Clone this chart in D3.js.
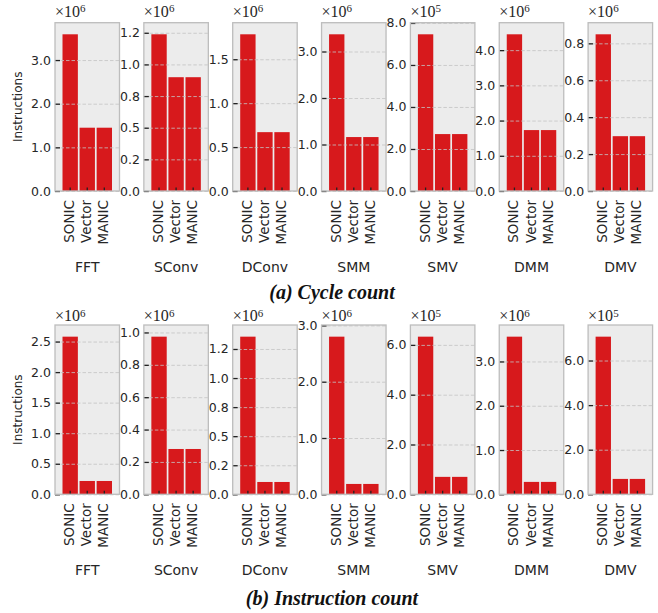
<!DOCTYPE html>
<html lang="en">
<head>
  <meta charset="UTF-8">
  <title>Cycle and instruction count</title>
  <script src="https://cdn.jsdelivr.net/npm/d3@7/dist/d3.min.js"></script>
  <style>
    body { margin: 0; background: #fff; }
  </style>
</head>
<body>
<script>
  const svgWidth = 658
  const svgHeight = 613

  // data
  const kernels = ["FFT", "SConv", "DConv", "SMM", "SMV", "DMM", "DMV"]
  const designs = ["SONIC", "Vector", "MANIC"]

  // (a) cycle count, one array per kernel: SONIC, Vector, MANIC
  const cycleFFT   = [3.59e6, 1.45e6, 1.45e6]
  const cycleSConv = [1.238e6, 0.899e6, 0.899e6]
  const cycleDConv = [1.784e6, 0.67e6, 0.67e6]
  const cycleSMM   = [3.37e6, 1.16e6, 1.16e6]
  const cycleSMV   = [7.46e5, 2.71e5, 2.71e5]
  const cycleDMM   = [4.45e6, 1.73e6, 1.73e6]
  const cycleDMV   = [0.849e6, 0.297e6, 0.297e6]

  // (b) instruction count
  const instrFFT   = [2.58e6, 0.218e6, 0.218e6]
  const instrSConv = [0.974e6, 0.28e6, 0.28e6]
  const instrDConv = [1.356e6, 0.106e6, 0.106e6]
  const instrSMM   = [2.80e6, 0.184e6, 0.184e6]
  const instrSMV   = [6.33e5, 0.70e5, 0.70e5]
  const instrDMM   = [3.56e6, 0.28e6, 0.28e6]
  const instrDMV   = [7.07e5, 0.69e5, 0.69e5]

  // offset exponent per panel (the x10^n above each axis)
  const cycleExp = [6, 6, 6, 6, 5, 6, 6]
  const instrExp = [6, 6, 6, 6, 5, 6, 5]

  // tick values (in units of 10^exp) and their printed labels
  const cycleTicks = [
    [0, 1, 2, 3],
    [0, 0.25, 0.5, 0.75, 1.0, 1.25],
    [0, 0.5, 1.0, 1.5],
    [0, 1, 2, 3],
    [0, 2, 4, 6, 8],
    [0, 1, 2, 3, 4],
    [0, 0.2, 0.4, 0.6, 0.8]
  ]
  const cycleTickLabels = [
    ["0.0", "1.0", "2.0", "3.0"],
    ["0.0", "0.2", "0.5", "0.8", "1.0", "1.2"],
    ["0.0", "0.5", "1.0", "1.5"],
    ["0.0", "1.0", "2.0", "3.0"],
    ["0.0", "2.0", "4.0", "6.0", "8.0"],
    ["0.0", "1.0", "2.0", "3.0", "4.0"],
    ["0.0", "0.2", "0.4", "0.6", "0.8"]
  ]
  const instrTicks = [
    [0, 0.5, 1.0, 1.5, 2.0, 2.5],
    [0, 0.2, 0.4, 0.6, 0.8, 1.0],
    [0, 0.25, 0.5, 0.75, 1.0, 1.25],
    [0, 1, 2, 3],
    [0, 2, 4, 6],
    [0, 1, 2, 3],
    [0, 2, 4, 6]
  ]
  const instrTickLabels = [
    ["0.0", "0.5", "1.0", "1.5", "2.0", "2.5"],
    ["0.0", "0.2", "0.4", "0.6", "0.8", "1.0"],
    ["0.0", "0.2", "0.5", "0.8", "1.0", "1.2"],
    ["0.0", "1.0", "2.0", "3.0"],
    ["0.0", "2.0", "4.0", "6.0"],
    ["0.0", "1.0", "2.0", "3.0"],
    ["0.0", "2.0", "4.0", "6.0"]
  ]

  const rows = [
    {
      title: "(a) Cycle count",
      values: [cycleFFT, cycleSConv, cycleDConv, cycleSMM, cycleSMV, cycleDMM, cycleDMV],
      exps: cycleExp, ticks: cycleTicks, labels: cycleTickLabels,
      top: 22.7, bottom: 191, titleY: 299, offY: -6
    },
    {
      title: "(b) Instruction count",
      values: [instrFFT, instrSConv, instrDConv, instrSMM, instrSMV, instrDMM, instrDMV],
      exps: instrExp, ticks: instrTicks, labels: instrTickLabels,
      top: 325, bottom: 494.3, titleY: 605, offY: -4
    }
  ]

  // layout
  const panelLeft = 55
  const panelStep = 88.85
  const panelW = 64.5
  const barColor = "#d7191c"
  const sans = "'DejaVu Sans', sans-serif"

  const svg = d3.select("body").append("svg")
    .attr("width", svgWidth)
    .attr("height", svgHeight)
    .style("display", "block")

  const x = d3.scaleBand()
    .domain(designs)
    .range([0, panelW])
    .paddingInner(0.1)
    .paddingOuter(0.44)

  rows.forEach(row => {
    const h = row.bottom - row.top

    // y axis label
    svg.append("text")
      .attr("transform", `translate(22,${(row.top + row.bottom) / 2}) rotate(-90)`)
      .attr("text-anchor", "middle")
      .attr("font-family", sans)
      .attr("font-size", 12)
      .attr("fill", "#262626")
      .text("Instructions")

    kernels.forEach((k, i) => {
      const vals = row.values[i]
      const scale = Math.pow(10, row.exps[i])
      const y = d3.scaleLinear()
        .domain([0, d3.max(vals) * 1.074])
        .range([h, 0])

      const g = svg.append("g")
        .attr("transform", `translate(${panelLeft + i * panelStep},${row.top})`)

      g.append("rect")
        .attr("width", panelW)
        .attr("height", h)
        .attr("fill", "#ececec")

      // bars
      g.selectAll(".bar")
        .data(vals)
        .enter()
        .append("rect")
        .attr("x", (d, j) => x(designs[j]))
        .attr("y", d => y(d))
        .attr("width", x.bandwidth())
        .attr("height", d => h - y(d))
        .attr("fill", barColor)

      const tv = row.ticks[i].map(t => t * scale)

      // dashed grid, drawn over the bars
      g.append("g")
        .call(d3.axisLeft(y).tickValues(tv).tickSize(-panelW).tickFormat(""))
        .call(a => a.select(".domain").remove())
        .selectAll("line")
        .attr("stroke", "#c4c4c4")
        .attr("stroke-width", 0.9)
        .attr("stroke-dasharray", "3.5,2")
        .attr("stroke-opacity", 0.9)

      // y axis with inward ticks
      const yAxis = g.append("g")
        .call(d3.axisLeft(y)
          .tickValues(tv)
          .tickFormat((d, j) => row.labels[i][j])
          .tickSizeInner(-5)
          .tickSizeOuter(0)
          .tickPadding(4))
      yAxis.select(".domain").remove()
      yAxis.selectAll("line").attr("stroke", "#222").attr("stroke-width", 1.3)
      yAxis.selectAll("text")
        .attr("font-family", sans)
        .attr("font-size", 12.5)
        .attr("fill", "#262626")

      // x axis
      const xAxis = g.append("g")
        .attr("transform", `translate(0,${h})`)
        .call(d3.axisBottom(x).tickSizeInner(-3.5).tickSizeOuter(0))
      xAxis.select(".domain").remove()
      xAxis.selectAll("line").attr("stroke", "#222").attr("stroke-width", 1.3)
      xAxis.selectAll("text")
        .attr("transform", "rotate(-90)")
        .attr("text-anchor", "end")
        .attr("x", -9)
        .attr("y", 0)
        .attr("dy", "0.3em")
        .attr("font-family", sans)
        .attr("font-size", 13.5)
        .attr("fill", "#262626")

      // frame
      g.append("rect")
        .attr("width", panelW)
        .attr("height", h)
        .attr("fill", "none")
        .attr("stroke", "#bdbdbd")
        .attr("stroke-width", 1.3)

      // offset text
      const off = g.append("text")
        .attr("x", 0)
        .attr("y", row.offY)
        .attr("font-family", "'Liberation Serif', serif")
        .attr("font-size", 16)
        .attr("fill", "#262626")
      off.append("tspan").text("\u00d710")
      off.append("tspan")
        .attr("dy", "-0.4em")
        .attr("font-size", 11)
        .text(row.exps[i])

      // kernel name
      g.append("text")
        .attr("x", panelW / 2)
        .attr("y", h + 81)
        .attr("text-anchor", "middle")
        .attr("font-family", sans)
        .attr("font-size", 14)
        .attr("fill", "#262626")
        .text(k)
    })

    svg.append("text")
      .attr("x", 332)
      .attr("y", row.titleY)
      .attr("text-anchor", "middle")
      .attr("font-family", "'Liberation Serif', serif")
      .attr("font-weight", "bold")
      .attr("font-style", "italic")
      .attr("font-size", 20)
      .attr("fill", "#111")
      .text(row.title)
  })
</script>
</body>
</html>
